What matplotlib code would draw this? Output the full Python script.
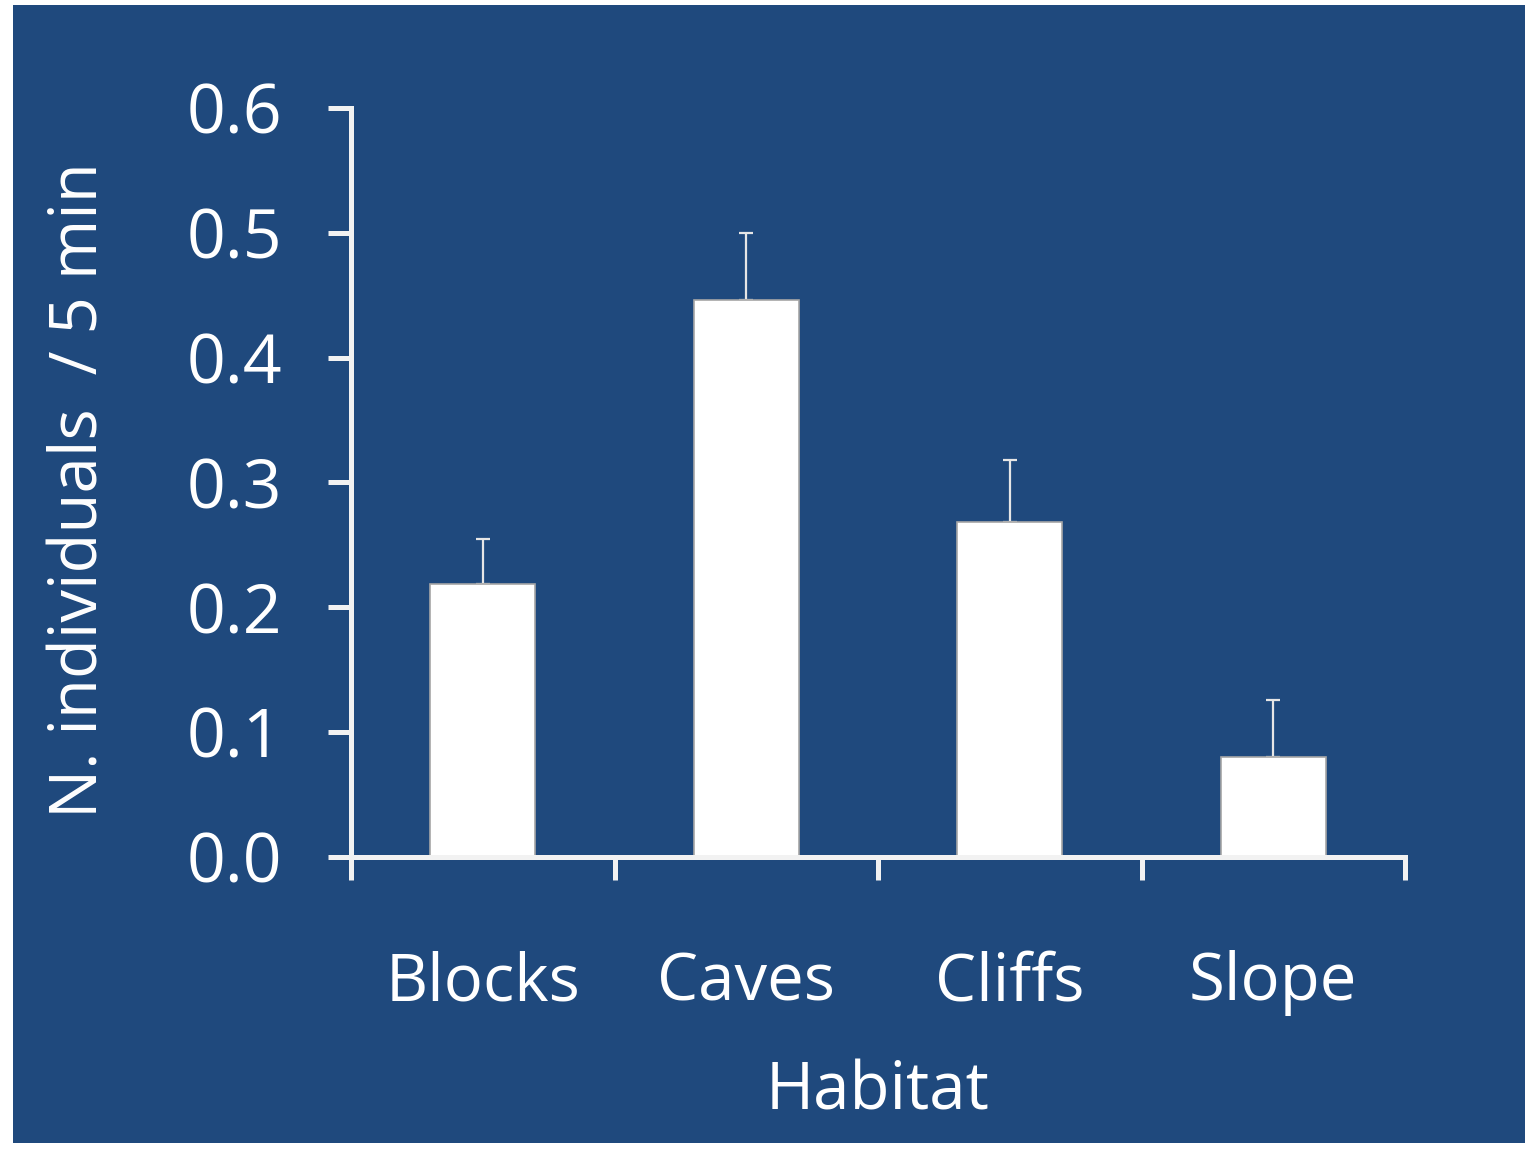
import matplotlib
matplotlib.use("Agg")
import matplotlib.pyplot as plt
from matplotlib.patches import Rectangle
import numpy as np

habitats = ["Blocks", "Caves", "Cliffs", "Slope"]
mean_individuals = [0.219, 0.446, 0.268, 0.080]
se_individuals = [0.036, 0.054, 0.050, 0.046]
y_ticks = [0.0, 0.1, 0.2, 0.3, 0.4, 0.5, 0.6]
y_tick_labels = ["0.0", "0.1", "0.2", "0.3", "0.4", "0.5", "0.6"]

plt.rcParams["font.family"] = ["Open Sans", "DejaVu Sans"]

BG = "#1f497d"
AXIS = "#f2f2f2"

fig = plt.figure(figsize=(15.25, 11.54), dpi=100, facecolor="white")
fig.patches.append(Rectangle((13 / 1525, 1 - 1143 / 1154), 1512 / 1525, 1138 / 1154,
                             transform=fig.transFigure, facecolor=BG,
                             edgecolor="none", zorder=-10))

ax = fig.add_axes([351 / 1525, 1 - 857 / 1154, 1054 / 1525, 749 / 1154])
ax.set_facecolor("none")

x = np.arange(len(habitats))
ax.bar(x, mean_individuals, width=0.4, color="white", edgecolor="#a6a6a6",
       linewidth=1.2, zorder=2)
ax.errorbar(x, mean_individuals, yerr=[np.zeros(len(x)), se_individuals],
            fmt="none", ecolor="#e6e6e6", elinewidth=1.6, capsize=5,
            capthick=1.6, zorder=1)

ax.set_xlim(-0.5, len(habitats) - 0.5)
ax.set_ylim(0, 0.6)

for side in ("top", "right"):
    ax.spines[side].set_visible(False)
for side in ("left", "bottom"):
    ax.spines[side].set_color(AXIS)
    ax.spines[side].set_linewidth(3.6)
    ax.spines[side].set_zorder(3)

ax.set_yticks(y_ticks)
ax.set_yticklabels(y_tick_labels)
ax.tick_params(axis="y", direction="out", length=16.5, width=3.6, color=AXIS,
               labelcolor="white", labelsize=49, pad=33)

# boundaries between categories carry the tick marks, centers carry the names
ax.set_xticks(np.arange(len(habitats) + 1) - 0.5)
ax.set_xticklabels([])
ax.tick_params(axis="x", which="major", direction="out", length=16.5, width=3.6,
               color=AXIS)
ax.set_xticks(x, minor=True)
ax.set_xticklabels(habitats, minor=True)
ax.tick_params(axis="x", which="minor", length=0, labelcolor="white",
               labelsize=47, pad=67)

ax.set_xlabel("Habitat", color="white", fontsize=47, labelpad=31)
ax.set_ylabel("N. individuals  / 5 min", color="white", fontsize=47)
ax.yaxis.set_label_coords(-0.225, 0.49)

fig.savefig("out.png", dpi=100, facecolor="white")
